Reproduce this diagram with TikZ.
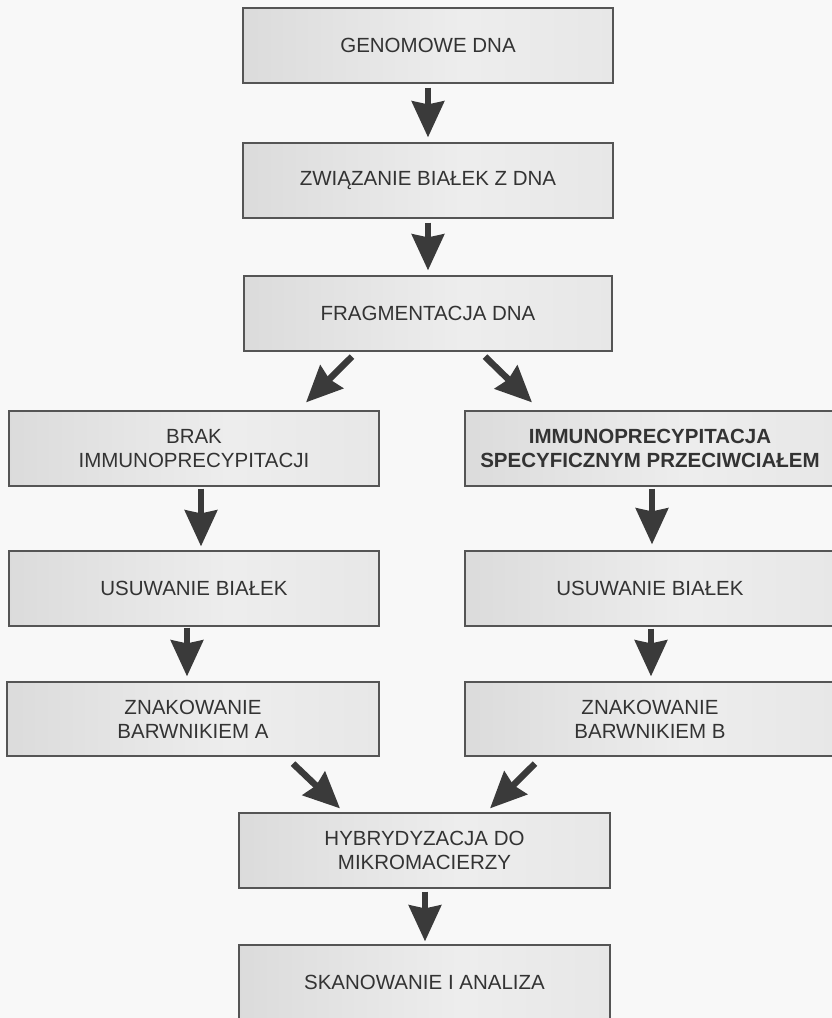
\documentclass[tikz,border=0pt]{standalone}
\usepackage{fontspec}
\setmainfont{Liberation Sans}
\usetikzlibrary{arrows.meta}
\definecolor{bg}{HTML}{F8F8F8}
\definecolor{edge}{HTML}{555555}
\definecolor{ink}{HTML}{333333}
\definecolor{arrowc}{HTML}{3A3A3A}
\pgfdeclarehorizontalshading{boxsh}{100bp}{color(0bp)=(black!20); color(25bp)=(black!14); color(55bp)=(black!7); color(80bp)=(black!10); color(100bp)=(black!17)}
\tikzset{
  stepbox/.style={draw=edge, line width=1.2pt, shading=boxsh, minimum width=370pt, minimum height=75pt,
    inner sep=0pt, align=center, text=ink, font=\fontsize{20.5pt}{24pt}\selectfont},
  arr/.style={draw=arrowc, line width=6.5pt, -{Stealth[length=36pt,width=32pt,inset=3pt,fill=arrowc]}},
}
\begin{document}
\begin{tikzpicture}[x=1pt,y=-1pt]
\useasboundingbox (0,0) rectangle (832,1018);
\clip (0,0) rectangle (832,1018);
\fill[bg] (0,0) rectangle (832,1018);

\node[stepbox] (g1) at (428,45.5) {GENOMOWE DNA};
\node[stepbox] (g2) at (428,180.5) {ZWIĄZANIE BIAŁEK Z DNA};
\node[stepbox, minimum width=368pt] (g3) at (428,313.5) {FRAGMENTACJA DNA};
\node[stepbox] (l1) at (194,448.5) {BRAK\\IMMUNOPRECYPITACJI};
\node[stepbox] (r1) at (650,448.5) {\bfseries IMMUNOPRECYPITACJA\\\bfseries SPECYFICZNYM PRZECIWCIAŁEM};
\node[stepbox] (l2) at (194,588.5) {USUWANIE BIAŁEK};
\node[stepbox] (r2) at (650,588.5) {USUWANIE BIAŁEK};
\node[stepbox, minimum width=372pt, minimum height=74pt] (l3) at (193,719) {ZNAKOWANIE\\BARWNIKIEM A};
\node[stepbox, minimum height=74pt] (r3) at (650,719) {ZNAKOWANIE\\BARWNIKIEM B};
\node[stepbox, minimum width=371pt] (h) at (424.5,850.5) {HYBRYDYZACJA DO\\MIKROMACIERZY};
\node[stepbox, minimum width=371pt] (s) at (424.5,982.5) {SKANOWANIE I ANALIZA};

\draw[arr] ([yshift=-4pt]g1.south) -- ([yshift=5pt]g2.north);
\draw[arr] ([yshift=-4pt]g2.south) -- ([yshift=5pt]g3.north);
\draw[arr] ([xshift=-76pt,yshift=-5pt]g3.south) -- ([xshift=112pt,yshift=8pt]l1.north);
\draw[arr] ([xshift=57pt,yshift=-5pt]g3.south) -- ([xshift=-118pt,yshift=8pt]r1.north);
\draw[arr] ([xshift=7pt,yshift=-2pt]l1.south) -- ([xshift=7pt,yshift=4pt]l2.north);
\draw[arr] ([xshift=-7pt,yshift=-1pt]l2.south) -- ([xshift=-6pt,yshift=5pt]l3.north);
\draw[arr] ([xshift=2pt,yshift=-2pt]r1.south) -- ([xshift=2pt,yshift=6pt]r2.north);
\draw[arr] ([xshift=1pt,yshift=-2pt]r2.south) -- ([xshift=1pt,yshift=5pt]r3.north);
\draw[arr] ([xshift=100pt,yshift=-7pt]l3.south) -- ([xshift=-84.5pt,yshift=4pt]h.north);
\draw[arr] ([xshift=-115pt,yshift=-7pt]r3.south) -- ([xshift=65.5pt,yshift=4pt]h.north);
\draw[arr] ([xshift=0.5pt,yshift=-3pt]h.south) -- ([xshift=0.5pt,yshift=3pt]s.north);
\end{tikzpicture}
\end{document}
